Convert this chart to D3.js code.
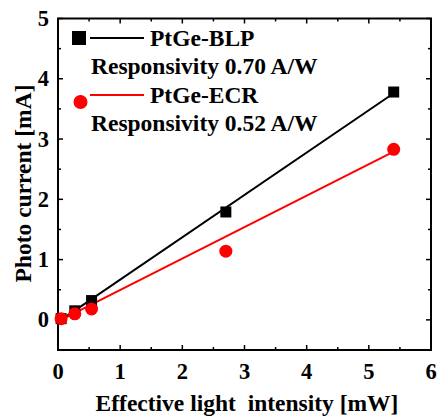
<!DOCTYPE html>
<html><head><meta charset="utf-8">
<script src="https://cdn.jsdelivr.net/npm/d3@7"></script>
<style>body{margin:0;background:#fff}svg{display:block}text{font-family:"Liberation Serif","Times New Roman",serif;font-weight:bold;fill:#000;white-space:pre}</style>
</head><body>
<script>
const blpX = [0.05, 0.27, 0.54, 2.70, 5.40];
const blpY = [0.02, 0.15, 0.32, 1.79, 3.78];
const ecrX = [0.05, 0.27, 0.54, 2.70, 5.40];
const ecrY = [0.02, 0.10, 0.18, 1.14, 2.83];
const blpFitX = [0.05, 5.40];
const blpFitY = [0.00, 3.76];
const ecrFitX = [0.05, 5.40];
const ecrFitY = [0.00, 2.79];
const xTicks = [0,1,2,3,4,5,6];
const yTicks = [0,1,2,3,4,5];
const legendLabels = ["PtGe-BLP","Responsivity 0.70 A/W","PtGe-ECR","Responsivity 0.52 A/W"];
const xTitle = "Effective light  intensity [mW]";
const yTitle = "Photo current [mA]";

const W=437,H=416;
const svg=d3.select("body").append("svg").attr("width",W).attr("height",H);
const x=d3.scaleLinear().domain([0,6]).range([58,431]);
const y=d3.scaleLinear().domain([-0.5,5]).range([350,18.5]);
const x0=58,x1=431,y0=350,y1=18.5;

const minorX=d3.range(0.5,6,1), minorY=d3.range(-0.5,5,1).filter(v=>v>-0.5);
const g=svg.append("g");
function ticks(vals,len){
  vals.forEach(v=>{
    g.append("line").attr("x1",x(v)).attr("x2",x(v)).attr("y1",y0).attr("y2",y0-len).attr("stroke","#000").attr("stroke-width",1.5);
    g.append("line").attr("x1",x(v)).attr("x2",x(v)).attr("y1",y1).attr("y2",y1+len).attr("stroke","#000").attr("stroke-width",1.5);
  });
}
function ticksY(vals,len){
  vals.forEach(v=>{
    g.append("line").attr("y1",y(v)).attr("y2",y(v)).attr("x1",x0).attr("x2",x0+len).attr("stroke","#000").attr("stroke-width",1.5);
    g.append("line").attr("y1",y(v)).attr("y2",y(v)).attr("x1",x1).attr("x2",x1-len).attr("stroke","#000").attr("stroke-width",1.5);
  });
}
ticks(xTicks,5); ticks(minorX,3);
ticksY(yTicks,5); ticksY(minorY,3);
g.append("rect").attr("x",x0).attr("y",y1).attr("width",x1-x0).attr("height",y0-y1).attr("fill","none").attr("stroke","#000").attr("stroke-width",2);

xTicks.forEach(v=>svg.append("text").attr("x",x(v)).attr("y",379).attr("text-anchor","middle").attr("font-size",22.5).text(v));
yTicks.forEach(v=>svg.append("text").attr("x",49).attr("y",y(v)+7.5).attr("text-anchor","end").attr("font-size",22.5).text(v));
svg.append("text").attr("x",247).attr("y",411).attr("text-anchor","middle").attr("font-size",23.5).text(xTitle);
svg.append("text").attr("transform","translate(31,183.5) rotate(-90)").attr("text-anchor","middle").attr("font-size",23.5).text(yTitle);

const line=d3.line().x(d=>x(d[0])).y(d=>y(d[1]));
svg.append("path").attr("d",line(blpFitX.map((v,i)=>[v,blpFitY[i]]))).attr("stroke","#000").attr("stroke-width",2).attr("fill","none");
svg.append("path").attr("d",line(ecrFitX.map((v,i)=>[v,ecrFitY[i]]))).attr("stroke","#f00").attr("stroke-width",2).attr("fill","none");
blpX.forEach((v,i)=>svg.append("rect").attr("x",x(v)-5.5).attr("y",y(blpY[i])-5.5).attr("width",11).attr("height",11).attr("fill","#000"));
ecrX.forEach((v,i)=>svg.append("circle").attr("cx",x(v)).attr("cy",y(ecrY[i])).attr("r",6.5).attr("fill","#f00"));

svg.append("rect").attr("x",72).attr("y",31).attr("width",14).attr("height",14).attr("fill","#000");
svg.append("line").attr("x1",90).attr("x2",144).attr("y1",38).attr("y2",38).attr("stroke","#000").attr("stroke-width",2);
svg.append("text").attr("x",150).attr("y",46).attr("font-size",23.5).text(legendLabels[0]);
svg.append("text").attr("x",91).attr("y",74).attr("font-size",23.5).text(legendLabels[1]);
svg.append("circle").attr("cx",80.5).attr("cy",102).attr("r",7).attr("fill","#f00");
svg.append("line").attr("x1",90).attr("x2",144).attr("y1",95).attr("y2",95).attr("stroke","#f00").attr("stroke-width",2);
svg.append("text").attr("x",150).attr("y",103).attr("font-size",23.5).text(legendLabels[2]);
svg.append("text").attr("x",91).attr("y",131).attr("font-size",23.5).text(legendLabels[3]);
</script>
</body></html>
